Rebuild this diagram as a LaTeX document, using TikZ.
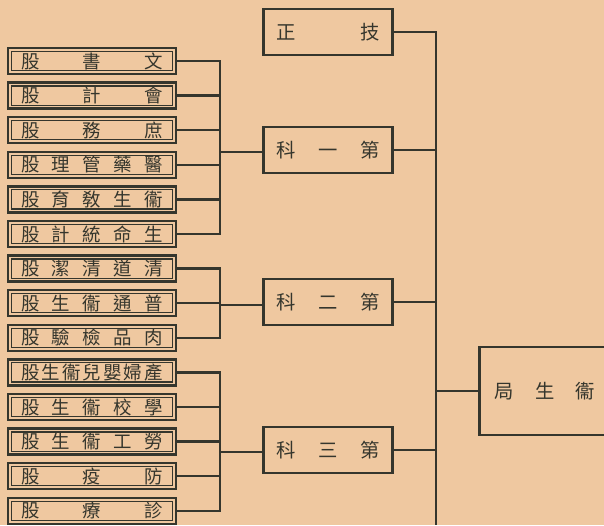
\documentclass[tikz,border=0pt]{standalone}
\usepackage{fontspec}
\setmainfont{Noto Sans CJK TC}
\usetikzlibrary{calc}
\definecolor{paper}{HTML}{EFC8A0}
\definecolor{ink}{HTML}{35362D}

\begin{document}
\begin{tikzpicture}[x=0.02cm,y=-0.02cm,
    every node/.style={text=ink,inner sep=0pt},
    gubox/.style={draw=ink,line width=1.4pt,minimum width=3.36cm,minimum height=0.52cm,
        font=\fontsize{10.5}{12}\selectfont},
    kebox/.style={draw=ink,line width=1.5pt,minimum width=2.58cm,minimum height=0.92cm,
        font=\fontsize{11}{13}\selectfont},
    wire/.style={draw=ink,line width=1.3pt},
    thinframe/.style={draw=ink,line width=0.7pt}
]
    \fill[paper] (0,0) rectangle (604,525);
    \clip (0,0) rectangle (604,525);

    % sections
    \node[kebox] (ke0) at (328,32)  {\makebox[2.06cm][s]{正\hfill 技}};
    \node[kebox] (ke1) at (328,150) {\makebox[2.06cm][s]{科\hfill 一\hfill 第}};
    \node[kebox] (ke2) at (328,302) {\makebox[2.06cm][s]{科\hfill 二\hfill 第}};
    \node[kebox] (ke3) at (328,450) {\makebox[2.06cm][s]{科\hfill 三\hfill 第}};
    \node[kebox,anchor=west,minimum height=1.76cm,inner xsep=0.3cm] (ju) at (478,391)
        {\makebox[2.02cm][s]{局\hfill 生\hfill 衞}};

    % units
    \foreach \i/\t in {1/{股\hfill 書\hfill 文},2/{股\hfill 計\hfill 會},3/{股\hfill 務\hfill 庶},
        4/{股\hfill 理\hfill 管\hfill 藥\hfill 醫},5/{股\hfill 育\hfill 敎\hfill 生\hfill 衞},
        6/{股\hfill 計\hfill 統\hfill 命\hfill 生},7/{股\hfill 潔\hfill 清\hfill 道\hfill 清},
        8/{股\hfill 生\hfill 衞\hfill 通\hfill 普},9/{股\hfill 驗\hfill 檢\hfill 品\hfill 肉},
        10/{股\hfill 生\hfill 衞\hfill 兒\hfill 嬰\hfill 婦\hfill 產},
        11/{股\hfill 生\hfill 衞\hfill 校\hfill 學},12/{股\hfill 生\hfill 衞\hfill 工\hfill 勞},
        13/{股\hfill 疫\hfill 防},14/{股\hfill 療\hfill 診}}{
        \node[gubox] (gu\i) at (92,{61+34.6*(\i-1)}) {\makebox[2.84cm][s]{\t}};
        \draw[thinframe] ([shift={(2.6pt,-2.6pt)}]gu\i.north west)
            rectangle ([shift={(-2.6pt,2.6pt)}]gu\i.south east);
    }

    % brackets
    \coordinate (j1) at (220,152);
    \coordinate (j2) at (220,305);
    \coordinate (j3) at (220,452);
    \foreach \i in {1,...,6}   \draw[wire] (gu\i.east) -| (j1);
    \foreach \i in {7,8,9}     \draw[wire] (gu\i.east) -| (j2);
    \foreach \i in {10,...,14} \draw[wire] (gu\i.east) -| (j3);
    \draw[wire] (j1) -- (j1 -| ke1.west);
    \draw[wire] (j2) -- (j2 -| ke2.west);
    \draw[wire] (j3) -- (j3 -| ke3.west);

    % trunk
    \coordinate (trunk) at (436,525);
    \draw[wire,line width=1.5pt] (ke0.east) -| (trunk);
    \foreach \k in {1,2,3}
        \draw[wire] (ke\k.east) -- (ke\k.east -| trunk);
    \draw[wire] (ju.west) -- (ju.west -| trunk);
\end{tikzpicture}
\end{document}
